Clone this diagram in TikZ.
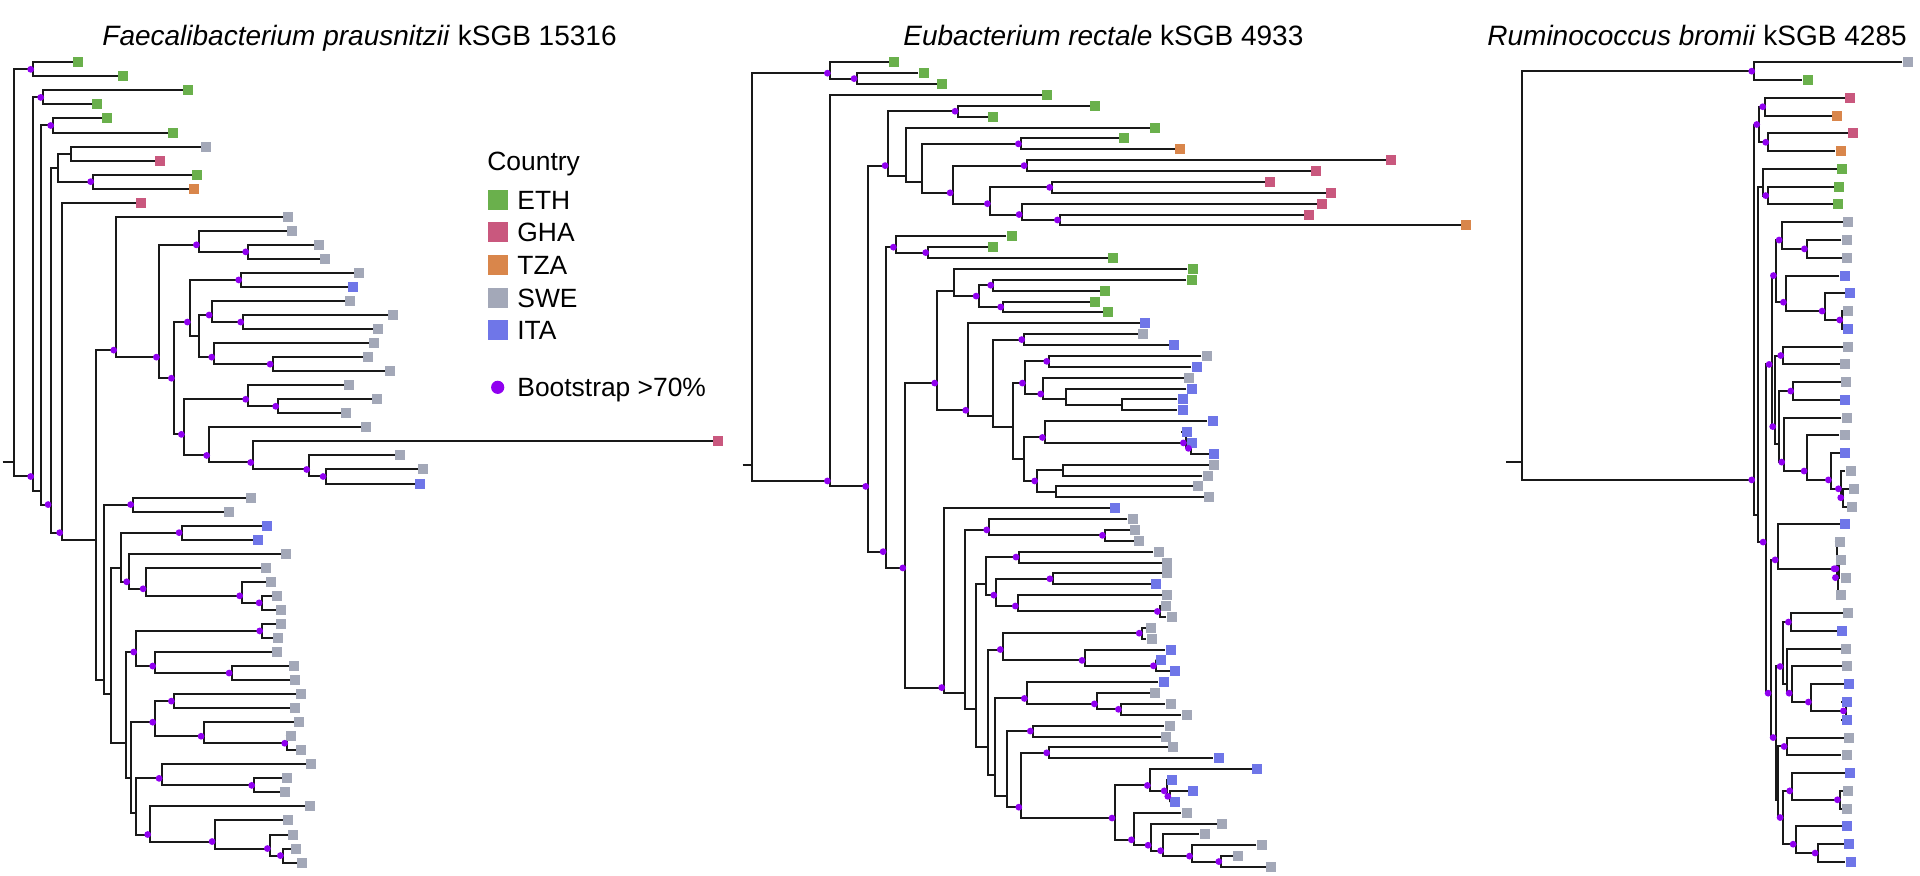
\documentclass[tikz,border=0pt]{standalone}
\usepackage{fontspec}
\setmainfont{Liberation Sans}
\usetikzlibrary{backgrounds}

\definecolor{eth}{HTML}{6AB04C}
\definecolor{gha}{HTML}{C9587E}
\definecolor{tza}{HTML}{D9864B}
\definecolor{swe}{HTML}{A3A8B8}
\definecolor{ita}{HTML}{6F76E8}
\definecolor{bootcol}{HTML}{9000F0}

\tikzset{
  branch/.style={draw=black!90,line width=1pt},
  leaf/.style={fill=#1,inner sep=0pt,minimum size=5pt},
  boot/.style={fill=bootcol},
  treetitle/.style={anchor=base west,inner sep=0pt,font=\fontsize{14}{17}\selectfont},
  legtext/.style={anchor=base west,inner sep=0pt,font=\fontsize{13.2}{16}\selectfont},
  legbox/.style={fill=#1,inner sep=0pt,minimum size=10pt}
}

\begin{document}
\begin{tikzpicture}[x=0.5pt,y=-0.5pt]
\useasboundingbox (0,0) rectangle (1920,875);

% titles
\node[treetitle] (ftitle) at (102,45) {\textit{Faecalibacterium prausnitzii} kSGB 15316};
\node[treetitle] (etitle) at (903,45) {\textit{Eubacterium rectale} kSGB 4933};
\node[treetitle] (rtitle) at (1487,45) {\textit{Ruminococcus bromii} kSGB 4285};

% legend
\node[legtext] (country) at (487,170) {Country};
\foreach \k/\col/\t in {0/eth/ETH,1/gha/GHA,2/tza/TZA,3/swe/SWE,4/ita/ITA}{
  \node[legbox=\col] (box\t) at (498.3,{199.5+\k*32.7}) {};
  \node[legtext] (lab\t) at (517,{209+\k*32.7}) {\t};
}
\node[circle,fill=bootcol,inner sep=0pt,minimum size=6.6pt] (bootdot) at (497.7,387.3) {};
\node[legtext] (bootlab) at (517,396.5) {Bootstrap >70\%};

% Faecalibacterium tree
\foreach \k/\lx/\col in {1/78/eth,2/123/eth,3/188/eth,4/97/eth,5/107/eth,6/173/eth,7/206/swe,8/160/gha,
  9/197/eth,10/194/tza,11/141/gha,12/288/swe,13/292/swe,14/319/swe,15/325/swe,16/359/swe,17/353/ita,
  18/350/swe,19/393/swe,20/378/swe,21/374/swe,22/368/swe,23/390/swe,24/349/swe,25/377/swe,26/346/swe,
  27/366/swe,28/718/gha,29/400/swe,30/423/swe,31/420/ita,32/251/swe,33/229/swe,34/267/ita,35/258/ita,
  36/286/swe,37/266/swe,38/271/swe,39/277/swe,40/281/swe,41/281/swe,42/278/swe,43/277/swe,44/294/swe,
  45/295/swe,46/301/swe,47/295/swe,48/299/swe,49/291/swe,50/301/swe,51/311/swe,52/287/swe,53/285/swe,
  54/310/swe,55/288/swe,56/293/swe,57/296/swe,58/302/swe}
  \node[leaf=\col] (f\k) at (\lx,{62.3+(\k-1)*14.04}) {};
\foreach \n/\lx/\ca/\cb in {fR/14.3/1/58,fA/33.3/1/2,fB/33.3/3/58,fC/43.3/3/4,fD/40.7/5/58,fE/53.3/5/6,
  fF/50.7/7/58,fG/58.3/7/10,fG1/70.7/7/8,fG2/93.3/9/10,fH/62.3/11/58,fI/95.7/12/58,fJ/116.3/12/31,
  fJ2/159/13/31,fJ3/199/13/15,fJ3b/248.3/14/15,fJ4/174/16/31,fJ5/190/16/23,fJ5a/241.3/16/17,
  fJ5b/199.3/18/23,fJ5c/211.7/18/20,fJ5e/243.3/19/20,fJ5d/214.3/21/23,fJ5f/272.7/22/23,fJ6/184/24/31,
  fJ6a/248.3/24/26,fJ6e/278.3/25/26,fJ6b/209.3/27/31,fJ6c/253.3/28/31,fJ6d/309.3/29/31,fJ6f/325.7/30/31,
  fK/104.3/32/58,fK1/133.3/32/33,fK2/111/34/58,fK3/120.7/34/40,fK3a/181.7/34/35,fK3b/129.3/36/40,
  fK3c/145.7/37/40,fK3d/242.3/38/40,fK3e/261.7/39/40,fK4/125.7/41/58,fK5/136.3/41/45,fK5a/262.3/41/42,
  fK5b/155.3/43/45,fK5c/231.7/44/45,fK6/130.7/46/58,fK7/155.3/46/50,fK7a/174/46/47,fK7b/203.7/48/50,
  fK7c/287.3/49/50,fK8/136/51/58,fK9/161.7/51/53,fK9a/254.3/52/53,fK10/150.3/54/58,fK11/214.7/55/58,
  fK12/270/56/58,fK13/283/57/58}
  \coordinate (\n) at (\lx,{62.3+((\ca+\cb)/2-1)*14.04});
\coordinate (f0) at (2.7,{62.3+28.5*14.04});

% Eubacterium tree
\foreach \k/\lx/\col in {1/894.3/eth,2/923.7/eth,3/942.3/eth,4/1047.3/eth,5/1095.3/eth,6/993.3/eth,
  7/1155/eth,8/1124/eth,9/1180/tza,10/1391/gha,11/1316/gha,12/1270/gha,13/1331/gha,14/1322/gha,
  15/1309/gha,16/1466/tza,17/1011.7/eth,18/993.3/eth,19/1113.3/eth,20/1192.7/eth,21/1191.7/eth,
  22/1105/eth,23/1095/eth,24/1108.3/eth,25/1145/ita,26/1143.3/swe,27/1174.3/ita,28/1206.7/swe,
  29/1196.7/ita,30/1189/swe,31/1191.7/ita,32/1182.7/ita,33/1182.7/ita,34/1212.7/ita,35/1186.7/ita,
  36/1191.7/ita,37/1214/ita,38/1214/swe,39/1207.7/swe,40/1198.3/swe,41/1209/swe,42/1115/ita,
  43/1132.7/swe,44/1135/swe,45/1139/swe,46/1158.8/swe,47/1167/swe,48/1167/swe,49/1156.2/ita,
  50/1167/swe,51/1166.3/swe,52/1171.6/swe,53/1150.9/swe,54/1151.6/swe,55/1170.5/ita,56/1160.9/ita,
  57/1175.2/ita,58/1163.8/ita,59/1155.2/swe,60/1170.5/swe,61/1186.6/swe,62/1169.5/swe,63/1165.9/swe,
  64/1173/swe,65/1218.8/ita,66/1257.4/ita,67/1172.3/ita,68/1193/ita,69/1175.2/ita,70/1186.6/swe,
  71/1222.4/swe,72/1204.5/swe,73/1261.7/swe,74/1238.4/swe,75/1271.3/swe}
  \node[leaf=\col] (e\k) at (\lx,{62.3+(\k-1)*10.874}) {};
\foreach \n/\lx/\ca/\cb in {eR/751.7/1/75,eA/830/1/3,eA2/856.7/2/3,eB/830/4/75,eC/868.3/5/75,
  eD/887.7/5/16,eD1/957.7/5/6,eD2/905.7/7/16,eD3/922.3/8/16,eD4/1021/8/9,eD5/952.7/10/16,
  eD6/1026.7/10/11,eD7/990/12/16,eD8/1052.3/12/13,eD9/1021.7/14/16,eD10/1060/15/16,eE/885.7/17/75,
  eE1/896/17/19,eE1a/928.3/18/19,eE2/905.4/20/75,eF/937.3/20/41,eF1/954.3/20/24,eF1b/978.7/21/24,
  eF1c/993.3/21/22,eF1d/1003.3/23/24,eF2/968.3/25/41,eF3/993.3/26/41,eF4/1024.3/26/27,
  eF5/1013.3/28/41,eF6/1025/28/33,eF6a/1049.3/28/29,eF6b/1043.3/30/33,eF6c/1065.7/31/33,
  eF6d/1121.7/32/33,eF7/1024/34/41,eF8/1045/34/37,eF8b/1186/35/37,eF8c/1191/36/37,eF9/1037.3/38/41,
  eF9a/1062.7/38/39,eF9b/1056/40/41,eG/944.3/42/75,eH/965/43/75,eH1/989.3/43/45,eH1a/1105/44/45,
  eH2/976/46/75,eI/985.7/46/52,eI1/1018.6/46/47,eI2/996.4/48/52,eI3/1052.5/48/49,eI4/1017.9/50/52,
  eI5/1160/51/52,eJ/987.5/53/75,eK/1002.9/53/57,eK1/1141.8/53/54,eK2/1084.6/55/57,eK3/1156/56/57,
  eL/995.4/58/75,eL1/1027/58/61,eL1a/1097/59/61,eL1b/1121/60/61,eL2/1007.1/62/75,eL3/1032.9/62/63,
  eL4/1021.4/64/75,eL5/1049.3/64/65,eL6/1114.6/66/75,eL7/1150/66/69,eL7a/1166.8/67/69,
  eL7b/1170.4/68/69,eL8/1134/70/75,eL8a/1150.7/71/75,eL8b/1163.2/72/75,eL8c/1192.1/73/75,
  eL8d/1221.4/74/75}
  \coordinate (\n) at (\lx,{62.3+((\ca+\cb)/2-1)*10.874});
\coordinate (e0) at (742.7,{62.3+37*10.874});

% Ruminococcus tree
\foreach \k/\lx/\col in {1/1907.7/swe,2/1807.7/eth,3/1850/gha,4/1837/tza,5/1853.3/gha,6/1840.7/tza,
  7/1842/eth,8/1839/eth,9/1838/eth,10/1848/swe,11/1846.7/swe,12/1847.3/swe,13/1844.7/ita,14/1850/ita,
  15/1848.3/swe,16/1848.3/ita,17/1848.3/swe,18/1845/swe,19/1846/swe,20/1845.3/ita,21/1846.7/swe,
  22/1844.7/swe,23/1845.3/ita,24/1850.7/swe,25/1854/swe,26/1852.3/swe,27/1845.3/ita,28/1840/swe,
  29/1841.3/swe,30/1845.7/swe,31/1841.3/swe,32/1848.3/swe,33/1842.3/ita,34/1846/swe,35/1847/swe,
  36/1849.3/ita,37/1846.7/ita,38/1846.7/ita,39/1849/swe,40/1846.7/swe,41/1850/ita,42/1848/swe,
  43/1847.3/swe,44/1847/ita,45/1849.3/ita,46/1850.7/ita}
  \node[leaf=\col] (r\k) at (\lx,{62.3+(\k-1)*17.77}) {};
\foreach \n/\lx/\ca/\cb in {rR/1521.7/1/46,rA/1754.3/1/2,rB/1754.3/3/46,rC/1759.3/3/6,
  rC1/1765.3/3/4,rC2/1768.3/5/6,rD/1758.3/7/46,rE/1763.3/7/9,rE1/1768.3/8/9,rF/1765.7/10/46,
  rG/1771.7/10/26,rG1/1776/10/16,rG1a/1781.7/10/12,rG1e/1807/11/12,rG1b/1786/13/16,
  rG1c/1824.7/14/16,rG1d/1842.3/15/16,rG2/1775.3/17/26,rG2a/1783.3/17/18,rG2b/1778.7/19/26,
  rG2c/1793.3/19/20,rG2d/1784.3/21/26,rG2e/1806.7/22/26,rG2f/1831/23/26,rG2g/1841/24/26,
  rG2h/1843.3/25/26,rH/1770.7/27/46,rH1/1777.7/27/31,rH1a/1836.7/28/31,rH1b/1838/29/31,
  rH1c/1838.5/29/30,rH2/1775.7/32/46,rH3/1782.7/32/38,rH3a/1791/32/33,rH3b/1786.7/34/38,
  rH3c/1791.7/35/38,rH3d/1811/36/38,rH3e/1846/37/38,rH4/1778.3/39/46,rH4a/1786.7/39/40,
  rH4b/1782.7/41/46,rH4c/1792.3/41/43,rH4e/1840/42/43,rH4d/1795.7/44/46,rH4f/1817.7/45/46}
  \coordinate (\n) at (\lx,{62.3+((\ca+\cb)/2-1)*17.77});
\coordinate (r0) at (1506,{62.3+22.5*17.77});

% branches, behind the tips
\begin{scope}[on background layer]
\foreach \pa/\ca/\cb in {fR/fA/fB,fA/f1/f2,fB/fC/fD,fC/f3/f4,fD/fE/fF,fE/f5/f6,fF/fG/fH,fG/fG1/fG2,
  fG1/f7/f8,fG2/f9/f10,fH/f11/fI,fI/fJ/fK,fJ/f12/fJ2,fJ2/fJ3/fJ4,fJ3/f13/fJ3b,fJ3b/f14/f15,
  fJ4/fJ5/fJ6,fJ5/fJ5a/fJ5b,fJ5a/f16/f17,fJ5b/fJ5c/fJ5d,fJ5c/f18/fJ5e,fJ5e/f19/f20,fJ5d/f21/fJ5f,
  fJ5f/f22/f23,fJ6/fJ6a/fJ6b,fJ6a/f24/fJ6e,fJ6e/f25/f26,fJ6b/f27/fJ6c,fJ6c/f28/fJ6d,fJ6d/f29/fJ6f,
  fJ6f/f30/f31,fK/fK1/fK2,fK1/f32/f33,fK2/fK3/fK4,fK3/fK3a/fK3b,fK3a/f34/f35,fK3b/f36/fK3c,
  fK3c/f37/fK3d,fK3d/f38/fK3e,fK3e/f39/f40,fK4/fK5/fK6,fK5/fK5a/fK5b,fK5a/f41/f42,fK5b/f43/fK5c,
  fK5c/f44/f45,fK6/fK7/fK8,fK7/fK7a/fK7b,fK7a/f46/f47,fK7b/f48/fK7c,fK7c/f49/f50,fK8/fK9/fK10,
  fK9/f51/fK9a,fK9a/f52/f53,fK10/f54/fK11,fK11/f55/fK12,fK12/f56/fK13,fK13/f57/f58,
  eR/eA/eB,eA/e1/eA2,eA2/e2/e3,eB/e4/eC,eC/eD/eE,eD/eD1/eD2,eD1/e5/e6,eD2/e7/eD3,eD3/eD4/eD5,
  eD4/e8/e9,eD5/eD6/eD7,eD6/e10/e11,eD7/eD8/eD9,eD8/e12/e13,eD9/e14/eD10,eD10/e15/e16,eE/eE1/eE2,
  eE1/e17/eE1a,eE1a/e18/e19,eE2/eF/eG,eF/eF1/eF2,eF1/e20/eF1b,eF1b/eF1c/eF1d,eF1c/e21/e22,
  eF1d/e23/e24,eF2/e25/eF3,eF3/eF4/eF5,eF4/e26/e27,eF5/eF6/eF7,eF6/eF6a/eF6b,eF6a/e28/e29,
  eF6b/e30/eF6c,eF6c/e31/eF6d,eF6d/e32/e33,eF7/eF8/eF9,eF8/e34/eF8b,eF8b/e35/eF8c,eF8c/e36/e37,
  eF9/eF9a/eF9b,eF9a/e38/e39,eF9b/e40/e41,eG/e42/eH,eH/eH1/eH2,eH1/e43/eH1a,eH1a/e44/e45,
  eH2/eI/eJ,eI/eI1/eI2,eI1/e46/e47,eI2/eI3/eI4,eI3/e48/e49,eI4/e50/eI5,eI5/e51/e52,eJ/eK/eL,
  eK/eK1/eK2,eK1/e53/e54,eK2/e55/eK3,eK3/e56/e57,eL/eL1/eL2,eL1/e58/eL1a,eL1a/e59/eL1b,
  eL1b/e60/e61,eL2/eL3/eL4,eL3/e62/e63,eL4/eL5/eL6,eL5/e64/e65,eL6/eL7/eL8,eL7/e66/eL7a,
  eL7a/e67/eL7b,eL7b/e68/e69,eL8/e70/eL8a,eL8a/e71/eL8b,eL8b/e72/eL8c,eL8c/e73/eL8d,eL8d/e74/e75,
  rR/rA/rB,rA/r1/r2,rB/rC/rD,rC/rC1/rC2,rC1/r3/r4,rC2/r5/r6,rD/rE/rF,rE/r7/rE1,rE1/r8/r9,
  rF/rG/rH,rG/rG1/rG2,rG1/rG1a/rG1b,rG1a/r10/rG1e,rG1e/r11/r12,rG1b/r13/rG1c,rG1c/r14/rG1d,
  rG1d/r15/r16,rG2/rG2a/rG2b,rG2a/r17/r18,rG2b/rG2c/rG2d,rG2c/r19/r20,rG2d/r21/rG2e,rG2e/r22/rG2f,
  rG2f/r23/rG2g,rG2g/r24/rG2h,rG2h/r25/r26,rH/rH1/rH2,rH1/r27/rH1a,rH1a/r28/rH1b,rH1b/rH1c/r31,
  rH1c/r29/r30,rH2/rH3/rH4,rH3/rH3a/rH3b,rH3a/r32/r33,rH3b/r34/rH3c,rH3c/r35/rH3d,rH3d/r36/rH3e,
  rH3e/r37/r38,rH4/rH4a/rH4b,rH4a/r39/r40,rH4b/rH4c/rH4d,rH4c/r41/rH4e,rH4e/r42/r43,rH4d/r44/rH4f,
  rH4f/r45/r46}
  \draw[branch] (\ca) -| (\pa) |- (\cb);
\draw[branch] (f0) -- (fR);
\draw[branch] (e0) -- (eR);
\draw[branch] (r0) -- (rR);
\end{scope}

% bootstrap support
\foreach \n in {fA,fB,fC,fE,fF,fG2,fH,fJ,fJ2,fJ3,fJ3b,fJ4,fJ5,fJ5a,fJ5c,fJ5e,fJ5d,fJ5f,fJ6,fJ6a,fJ6e,
  fJ6b,fJ6c,fJ6d,fJ6f,fK1,fK3a,fK3b,fK3c,fK3d,fK3e,fK5,fK5a,fK5b,fK5c,fK7,fK7a,fK7b,fK7c,fK9,fK9a,
  fK10,fK11,fK12,fK13,
  eA,eA2,eB,eC,eD,eD1,eD4,eD5,eD6,eD7,eD8,eD9,eD10,eE,eE1,eE1a,eE2,eF,eF1b,eF1c,eF1d,eF2,eF4,eF6,
  eF6a,eF6b,eF8,eF8b,eF8c,eF9,eG,eH1,eH1a,eI1,eI2,eI3,eI4,eI5,eK,eK1,eK2,eK3,eL1,eL1a,eL1b,eL3,eL4,
  eL5,eL6,eL7,eL7a,eL7b,eL8,eL8a,eL8b,eL8c,eL8d,
  rA,rB,rC,rC1,rC2,rE1,rF,rG,rG1,rG1a,rG1e,rG1b,rG1c,rG1d,rG2,rG2a,rG2c,rG2d,rG2e,rG2f,rG2g,rG2h,
  rH,rH1,rH1a,rH1b,rH1c,rH2,rH3,rH3a,rH3c,rH3d,rH3e,rH4a,rH4b,rH4c,rH4d,rH4e,rH4f}
  \fill[boot] ([xshift=-1.3pt]\n) circle[radius=1.7pt];
\end{tikzpicture}
\end{document}
